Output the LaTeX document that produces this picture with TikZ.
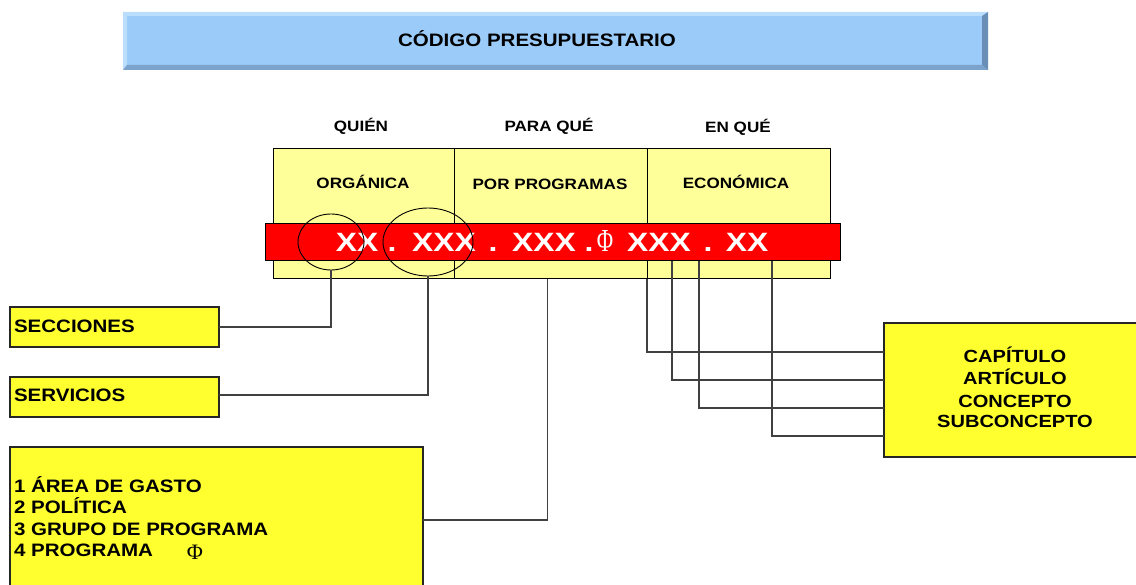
\documentclass[tikz,border=0pt]{standalone}
\usepackage{fontspec}
\usepackage{graphicx}
\setmainfont{Liberation Sans}[FakeStretch=1.14]
\newfontfamily\redfont{Liberation Sans}[FakeStretch=1.2]
\newfontfamily\phifont{Liberation Serif}
\usetikzlibrary{calc,shapes.geometric}
\definecolor{titleblue}{HTML}{9BCBF8}
\definecolor{titlelight}{HTML}{BBDDFE}
\definecolor{titledark}{HTML}{7BA3CB}
\definecolor{titledarker}{HTML}{6A8FB6}
\definecolor{paleyellow}{HTML}{FFFF99}
\definecolor{brightyellow}{HTML}{FFFF30}
\definecolor{codered}{HTML}{FF0000}
\begin{document}
\begin{tikzpicture}[x=1pt,y=1pt,
  every node/.style={inner sep=0pt, outer sep=0pt},
  lbl/.style={font=\bfseries\fontsize{15}{18}\selectfont, anchor=base},
  body/.style={font=\bfseries\fontsize{18}{21}\selectfont, anchor=base west},
  rbody/.style={font=\bfseries\fontsize{17.6}{21}\selectfont, anchor=base},
  cellbox/.style={draw=black, line width=1pt, fill=paleyellow, minimum height=130pt, anchor=north west},
  ybox/.style={draw=black!85, line width=1.2pt, fill=brightyellow, anchor=north west},
  conn/.style={draw=black!75, line width=1.3pt},
  code/.style={font=\redfont\bfseries\fontsize{26.5}{30}\selectfont, text=white, anchor=base},
  ring/.style={draw=black, ellipse, line width=0.9pt}]
\useasboundingbox (0,0) rectangle (1136,-585);
\clip (0,0) rectangle (1136,-585);
% title bar
\fill[titleblue] (123,-12) rectangle (988,-70);
\fill[titlelight] (123,-12) -- (988,-12) -- (982,-16) -- (127,-16) -- cycle;
\fill[titlelight] (123,-12) -- (127,-16) -- (127,-65) -- (123,-70) -- cycle;
\fill[titledark] (123,-70) -- (988,-70) -- (982,-65) -- (127,-65) -- cycle;
\fill[titledarker] (988,-12) -- (988,-70) -- (982,-65) -- (982,-16) -- cycle;
\node[font=\bfseries\fontsize{18}{20}\selectfont, anchor=base] (title) at (537,-47) {CÓDIGO PRESUPUESTARIO};
% headings
\node[lbl] (quien) at (361,-132) {QUIÉN};
\node[lbl] (paraque) at (549,-132) {PARA QUÉ};
\node[lbl] (enque) at (738,-133) {EN QUÉ};
% cells
\node[cellbox, minimum width=181pt] (org) at (273,-149) {};
\node[cellbox, minimum width=193pt] (prog) at (454,-149) {};
\node[cellbox, minimum width=183pt] (eco) at (647,-149) {};
\node[lbl] (orgt) at (363,-189) {ORGÁNICA};
\node[lbl] (progt) at (550,-190) {POR PROGRAMAS};
\node[lbl] (ecot) at (736,-189) {ECONÓMICA};
% red code bar
\node[draw=black, fill=codered, line width=1pt, minimum width=575pt, minimum height=37pt, anchor=north west] (bar) at (265,-224) {};
\node[code] (c1) at (357,-252) {XX};
\node[code] (d1) at (392,-252) {.};
\node[code] (c2) at (444,-252) {XXX};
\node[code] (d2) at (493,-252) {.};
\node[code] (c3) at (544,-252) {XXX};
\node[code] (d3) at (589,-252) {.};
\node[font=\phifont\fontsize{32}{34}\selectfont, text=white, anchor=base] (phi1) at (605,-252) {\scalebox{0.7}[1]{Φ}};
\node[code] (c4) at (659,-252) {XXX};
\node[code] (d4) at (708,-252) {.};
\node[code] (c5) at (747,-252) {XX};
% rings
\node[ring, minimum width=66pt, minimum height=56pt] (e1) at (331,-242) {};
\node[ring, minimum width=90pt, minimum height=68pt] (e2) at (428,-242) {};
% boxes
\node[ybox, minimum width=209pt, minimum height=40pt] (secc) at (10,-307) {};
\node[body] (secct) at (14,-333) {SECCIONES};
\node[ybox, minimum width=209pt, minimum height=40pt] (serv) at (10,-377) {};
\node[body] (servt) at (14,-402) {SERVICIOS};
\node[ybox, minimum width=413pt, minimum height=146pt] (pbox) at (10,-447) {};
\node[body] (p1) at (14,-492) {1 ÁREA DE GASTO};
\node[body] (p2) at (14,-513) {2 POLÍTICA};
\node[body] (p3) at (14,-535) {3 GRUPO DE PROGRAMA};
\node[body] (p4) at (14,-556) {4 PROGRAMA};
\node[font=\phifont\fontsize{22}{24}\selectfont, anchor=base] (phi2) at (195,-559) {Φ};
\node[ybox, minimum width=262pt, minimum height=134pt] (rbox) at (884,-323) {};
\node[rbody] (r1) at (1015,-363) {CAPÍTULO};
\node[rbody] (r2) at (1015,-385) {ARTÍCULO};
\node[rbody] (r3) at (1015,-407) {CONCEPTO};
\node[rbody] (r4) at (1015,-428) {SUBCONCEPTO};
% connectors
\draw[conn] (e1.south) |- (secc.east);
\draw[conn] (e2.south) |- ([yshift=2pt]serv.east);
\draw[conn] ([xshift=-3pt]prog.south) |- (pbox.east);
\draw[conn] (eco.south west) |- ([yshift=38pt]rbox.west);
\draw[conn] ($(bar.south west)+(407,0)$) |- ([yshift=10pt]rbox.west);
\draw[conn] ($(bar.south west)+(434,0)$) |- ([yshift=-18pt]rbox.west);
\draw[conn] ($(bar.south west)+(507,0)$) |- ([yshift=-46pt]rbox.west);
\end{tikzpicture}
\end{document}
